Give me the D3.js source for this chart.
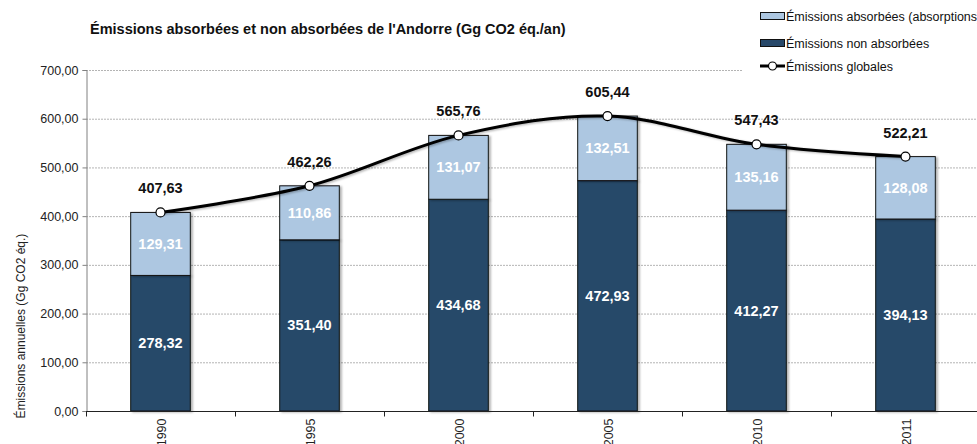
<!DOCTYPE html>
<html>
<head>
<meta charset="utf-8">
<script src="https://cdn.jsdelivr.net/npm/d3@7"></script>
<style>
    body { margin: 0; background: #fff; }
    text { font-family: "Liberation Sans", Arial, sans-serif; }
</style>
</head>
<body>
<script>
//==============================================================================
// data

var years = ["1990", "1995", "2000", "2005", "2010", "2011"];
var nonAbsorbed = [278.32, 351.40, 434.68, 472.93, 412.27, 394.13];
var absorbed = [129.31, 110.86, 131.07, 132.51, 135.16, 128.08];
var totals = [407.63, 462.26, 565.76, 605.44, 547.43, 522.21];
var yTicks = [0, 100, 200, 300, 400, 500, 600, 700];
var seriesNames = ["Émissions absorbées (absorptions)", "Émissions non absorbées", "Émissions globales"];

var colLight = "#adc7e1";
var colDark = "#274869";

//==============================================================================

var totalWidth = 977;
var totalHeight = 444;

var fmt = function(v) { return v.toFixed(2).replace(".", ","); };

var svg = d3.select("body").append("svg")
    .attr("width", totalWidth)
    .attr("height", totalHeight);

var x = d3.scaleBand().domain(years).range([86, 86 + 6 * 149]).paddingInner(0.6).paddingOuter(0.3);
var y = d3.scaleLinear().domain([0, 700]).range([411, 70]);

// shadow for bars
var defs = svg.append("defs");
var f = defs.append("filter").attr("id", "shadow").attr("x", "-10%").attr("y", "-10%").attr("width", "130%").attr("height", "130%");
f.append("feDropShadow").attr("dx", 2).attr("dy", 1).attr("stdDeviation", 1).attr("flood-color", "#000").attr("flood-opacity", 0.3);

// gridlines
svg.append("g").selectAll("line").data(yTicks.slice(1)).join("line")
    .attr("x1", 86).attr("x2", totalWidth)
    .attr("y1", function(d) { return y(d) + 0.5; }).attr("y2", function(d) { return y(d) + 0.5; })
    .attr("stroke", "#b4b4b4").attr("stroke-width", 1).attr("stroke-dasharray", "2,1");

// y axis
var yAxis = svg.append("g").attr("transform", "translate(86.5,0)")
    .call(d3.axisLeft(y).tickValues(yTicks).tickFormat(fmt).tickSize(4).tickPadding(4));
yAxis.select(".domain").attr("stroke", "#808080");
yAxis.selectAll(".tick line").attr("stroke", "#808080");
yAxis.selectAll("text").style("font-size", "12.5px").attr("fill", "#222");

svg.append("text")
    .attr("transform", "translate(25,326) rotate(-90)")
    .attr("text-anchor", "middle")
    .style("font-size", "12px").attr("fill", "#222")
    .text("Émissions annuelles (Gg CO2 éq.)");

// bars
var idx = d3.range(years.length);
var barG = svg.append("g");
barG.selectAll("rect.dark").data(idx).join("rect").attr("class", "dark")
    .attr("x", function(i) { return x(years[i]); })
    .attr("width", x.bandwidth())
    .attr("y", function(i) { return y(nonAbsorbed[i]); })
    .attr("height", function(i) { return y(0) - y(nonAbsorbed[i]); })
    .attr("fill", colDark).attr("stroke", "#111").attr("stroke-width", 1)
    .attr("filter", "url(#shadow)");
barG.selectAll("rect.light").data(idx).join("rect").attr("class", "light")
    .attr("x", function(i) { return x(years[i]); })
    .attr("width", x.bandwidth())
    .attr("y", function(i) { return y(nonAbsorbed[i] + absorbed[i]); })
    .attr("height", function(i) { return y(nonAbsorbed[i]) - y(nonAbsorbed[i] + absorbed[i]); })
    .attr("fill", colLight).attr("stroke", "#111").attr("stroke-width", 1)
    .attr("filter", "url(#shadow)");

// x axis
var xAxis = svg.append("g").attr("transform", "translate(0,411.5)");
xAxis.append("line").attr("x1", 86).attr("x2", totalWidth).attr("stroke", "#222");
xAxis.selectAll("line.tk").data(d3.range(7)).join("line").attr("class", "tk")
    .attr("x1", function(i) { return 86 + i * x.step() + 0.5; })
    .attr("x2", function(i) { return 86 + i * x.step() + 0.5; })
    .attr("y1", 0).attr("y2", 5).attr("stroke", "#222");
xAxis.selectAll("text").data(years).join("text")
    .attr("transform", function(d) { return "translate(" + (x(d) + x.bandwidth() / 2 + 5) + ",7) rotate(-90)"; })
    .attr("text-anchor", "end")
    .style("font-size", "12.5px").attr("fill", "#222")
    .text(function(d) { return d; });

// segment labels
var lab = svg.append("g").style("font-size", "14.5px").style("font-weight", "bold").attr("fill", "#fff").attr("text-anchor", "middle");
lab.selectAll("text.d").data(idx).join("text").attr("class", "d")
    .attr("x", function(i) { return x(years[i]) + x.bandwidth() / 2; })
    .attr("y", function(i) { return y(nonAbsorbed[i] / 2) + 5; })
    .text(function(i) { return fmt(nonAbsorbed[i]); });
lab.selectAll("text.l").data(idx).join("text").attr("class", "l")
    .attr("x", function(i) { return x(years[i]) + x.bandwidth() / 2; })
    .attr("y", function(i) { return y(nonAbsorbed[i] + absorbed[i] / 2) + 5; })
    .text(function(i) { return fmt(absorbed[i]); });

// total line
var line = d3.line()
    .x(function(i) { return x(years[i]) + x.bandwidth() / 2; })
    .y(function(i) { return y(totals[i]); })
    .curve(d3.curveCardinal.tension(0));
svg.append("path").datum(idx).attr("d", line)
    .attr("fill", "none").attr("stroke", "#000").attr("stroke-width", 3)
    .attr("filter", "url(#shadow)");
svg.append("g").selectAll("circle").data(idx).join("circle")
    .attr("cx", function(i) { return x(years[i]) + x.bandwidth() / 2; })
    .attr("cy", function(i) { return y(totals[i]); })
    .attr("r", 4.5)
    .attr("fill", "#fff").attr("stroke", "#000").attr("stroke-width", 1.2);
svg.append("g").style("font-size", "14.5px").style("font-weight", "bold").attr("fill", "#111").attr("text-anchor", "middle")
    .selectAll("text").data(idx).join("text")
    .attr("x", function(i) { return x(years[i]) + x.bandwidth() / 2; })
    .attr("y", function(i) { return y(totals[i]) - 19; })
    .text(function(i) { return fmt(totals[i]); });

// title
svg.append("text").attr("x", 90).attr("y", 34)
    .style("font-size", "14.5px").style("font-weight", "bold").attr("fill", "#111")
    .text("Émissions absorbées et non absorbées de l'Andorre (Gg CO2 éq./an)");

// legend
var leg = svg.append("g");
leg.append("rect").attr("x", 742).attr("y", 2).attr("width", 240).attr("height", 76).attr("fill", "#fff");
var legY = [16, 43, 66];
leg.append("rect").attr("x", 760.5).attr("y", legY[0] - 3.5).attr("width", 24).attr("height", 7).attr("fill", colLight).attr("stroke", "#111");
leg.append("rect").attr("x", 760.5).attr("y", legY[1] - 3.5).attr("width", 24).attr("height", 7).attr("fill", colDark).attr("stroke", "#111");
leg.append("line").attr("x1", 760).attr("x2", 785).attr("y1", legY[2]).attr("y2", legY[2]).attr("stroke", "#000").attr("stroke-width", 3);
leg.append("circle").attr("cx", 772.5).attr("cy", legY[2]).attr("r", 4).attr("fill", "#fff").attr("stroke", "#000").attr("stroke-width", 1.2);
leg.selectAll("text").data(seriesNames).join("text")
    .attr("x", 786).attr("y", function(d, i) { return legY[i] + 4.5; })
    .style("font-size", "12.5px").attr("fill", "#111")
    .text(function(d) { return d; });
</script>
</body>
</html>
